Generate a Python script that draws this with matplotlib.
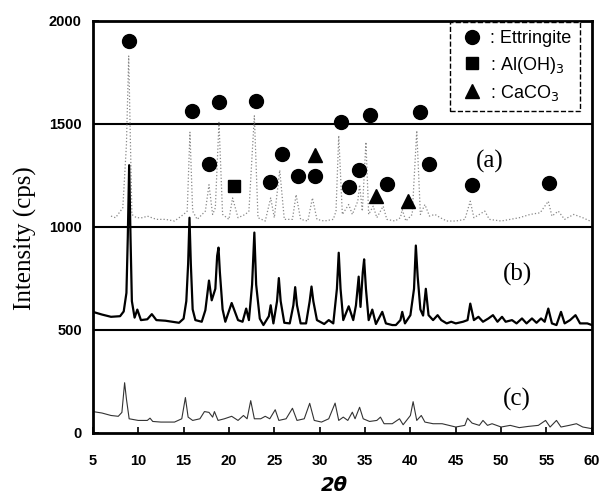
import matplotlib.pyplot as plt
from matplotlib.lines import Line2D

# pattern (a): dotted trace, offset ~1000
a_x = [7.0, 7.5, 8.3, 8.7, 8.95, 9.3, 9.8, 10.5, 11.0, 12.0, 13.0, 14.0, 15.0, 15.4, 15.7, 16.0,
       16.5, 17.4, 17.8, 18.2, 18.5, 18.9, 19.3, 20.0, 20.4, 21.0, 21.8, 22.2, 22.8, 23.2, 24.0,
       24.6, 25.0, 25.6, 26.1, 27.0, 27.4, 27.9, 28.7, 29.2, 29.7, 30.5, 31.5, 31.8, 32.1, 32.5,
       33.2, 33.6, 34.2, 34.4, 34.7, 35.1, 35.4, 35.9, 36.3, 37.0, 37.4, 38.3, 38.9, 39.1, 39.5,
       40.2, 40.7, 41.1, 41.6, 42.1, 42.7, 43.3, 44.0, 45.0, 46.0, 46.6, 47.0, 47.6, 48.2, 48.7,
       50.0, 51.0, 52.0, 53.2, 54.3, 55.2, 55.6, 56.3, 57.0, 58.0, 59.0, 59.8]
a_y = [1053, 1045, 1093, 1400, 1830, 1061, 1045, 1045, 1053, 1037, 1037, 1029, 1061, 1077, 1460, 1077,
       1037, 1077, 1205, 1061, 1093, 1508, 1061, 1037, 1141, 1045, 1061, 1077, 1540, 1045, 1029,
       1141, 1045, 1276, 1037, 1037, 1157, 1037, 1029, 1141, 1037, 1029, 1037, 1077, 1444, 1061,
       1109, 1061, 1125, 1205, 1077, 1412, 1061, 1101, 1045, 1101, 1037, 1029, 1045, 1085, 1029,
       1061, 1468, 1061, 1109, 1053, 1061, 1045, 1029, 1029, 1037, 1125, 1045, 1061, 1077, 1037,
       1029, 1037, 1045, 1061, 1069, 1125, 1053, 1077, 1037, 1061, 1045, 1029]

# pattern (b): solid trace, offset ~500
b_x = [5.0, 6.0, 7.0, 8.0, 8.4, 8.7, 8.85, 9.0, 9.15, 9.3, 9.6, 9.9, 10.3, 11.0, 11.5, 12.0, 13.0,
       14.5, 15.0, 15.3, 15.5, 15.65, 15.8, 16.0, 16.3, 17.0, 17.4, 17.8, 18.1, 18.5, 18.7, 18.85,
       19.0, 19.3, 19.6, 20.3, 21.0, 21.5, 21.9, 22.2, 22.55, 22.8, 23.0, 23.4, 23.8, 24.4, 24.6,
       24.9, 25.3, 25.5, 25.7, 26.1, 26.7, 27.1, 27.3, 27.5, 27.9, 28.5, 28.9, 29.1, 29.3, 29.7,
       30.5, 31.0, 31.5, 31.9, 32.1, 32.3, 32.6, 33.2, 33.7, 34.0, 34.3, 34.5, 34.75, 34.9, 35.1,
       35.4, 35.8, 36.2, 36.9, 37.3, 38.0, 38.4, 38.9, 39.1, 39.4, 40.0, 40.4, 40.6, 40.8, 41.1,
       41.4, 41.7, 42.0, 42.5, 43.0, 43.4, 44.0, 44.5, 45.0, 45.8, 46.3, 46.6, 47.0, 47.5, 48.0,
       48.6, 49.1, 49.6, 50.1, 50.5, 51.2, 51.7, 52.3, 52.8, 53.4, 53.9, 54.4, 54.8, 55.2, 55.6,
       56.1, 56.6, 57.0, 57.6, 58.2, 58.7, 59.5, 60.0]
b_y = [588, 575, 564, 567, 590, 680, 950, 1300, 950, 640, 560, 599, 548, 552, 577, 548, 545,
       535, 555, 640, 820, 1045, 820, 600, 548, 540, 596, 740, 644, 700, 860, 900,
       780, 600, 540, 631, 548, 540, 604, 548, 720, 973, 720, 555, 524, 567, 620,
       532, 640, 752, 640, 535, 532, 620, 708, 620, 532, 532, 640, 711, 640, 548,
       529, 548, 532, 700, 875, 700, 548, 615, 548, 620, 759, 612, 780, 843, 700,
       548, 599, 529, 588, 532, 524, 524, 548, 588, 532, 572, 700, 910, 760, 600,
       570, 700, 572, 548, 572, 548, 532, 540, 532, 540, 548, 628, 548, 564, 540,
       556, 572, 540, 564, 540, 548, 532, 556, 532, 556, 535, 556, 540, 604, 532,
       524, 588, 532, 548, 572, 532, 532, 524]

# pattern (c): thin trace, no offset
c_x = [5.0, 6.0, 7.0, 7.8, 8.2, 8.5, 8.7, 9.0, 10.0, 11.0, 11.3, 11.6, 12.5, 14.0, 14.8, 15.2,
       15.5, 16.0, 16.8, 17.3, 17.8, 18.2, 18.4, 18.8, 19.5, 20.3, 21.0, 21.6, 22.0, 22.4, 22.8,
       23.5, 24.0, 24.5, 25.1, 25.5, 26.3, 27.0, 27.5, 28.3, 28.9, 29.4, 30.2, 31.0, 31.7, 32.1,
       32.6, 33.1, 33.6, 33.9, 34.4, 34.8, 35.5, 36.3, 36.7, 37.1, 38.0, 38.8, 39.2, 40.0, 40.3,
       40.7, 41.2, 41.6, 42.5, 43.5, 45.0, 46.0, 46.3, 46.8, 47.6, 48.0, 48.5, 49.0, 50.0, 51.0,
       52.0, 53.0, 54.1, 54.9, 55.4, 56.1, 56.6, 57.5, 58.3, 59.0, 60.0]
c_y = [104, 97, 85, 81, 100, 244, 165, 69, 61, 61, 72, 56, 53, 53, 69, 172,
       77, 61, 69, 104, 100, 77, 104, 61, 69, 81, 61, 85, 69, 157, 69,
       69, 81, 69, 113, 61, 69, 120, 61, 69, 144, 61, 53, 69, 145, 61,
       77, 61, 101, 69, 125, 69, 56, 61, 77, 45, 45, 69, 40, 85, 152,
       61, 85, 53, 45, 45, 29, 37, 72, 48, 37, 61, 37, 45, 29, 37,
       26, 32, 37, 61, 29, 61, 29, 37, 45, 29, 21]

# phase markers
ett_x = [8.97, 15.96, 18.94, 22.99, 17.79, 24.53, 25.9, 27.56, 29.43, 32.3, 33.27, 34.38,
         35.5, 37.4, 41.08, 42.1, 46.8, 55.3]
ett_y = [1902, 1564, 1607, 1613, 1304, 1220, 1356, 1246, 1246, 1511, 1192, 1276,
         1543, 1209, 1559, 1304, 1205, 1212]
aloh_x = [20.57]
aloh_y = [1197]
caco_x = [29.52, 36.2, 39.75]
caco_y = [1348, 1149, 1128]

yticks = [0, 500, 1000, 1500, 2000]
xticks = [5, 10, 15, 20, 25, 30, 35, 40, 45, 50, 55, 60]

fig = plt.figure(figsize=(6.03, 4.94), dpi=100)
ax = fig.add_axes([0.154, 0.1235, 0.8275, 0.834])

for yy in [500, 1000, 1500]:
    ax.axhline(yy, color='black', lw=1.5, zorder=1)

ax.plot(a_x, a_y, color='#888888', lw=0.9, ls=':', zorder=2)
ax.plot(b_x, b_y, color='black', lw=1.6, zorder=2)
ax.plot(c_x, c_y, color='#333333', lw=0.8, zorder=2)

ax.plot(ett_x, ett_y, 'o', color='black', ms=10, ls='none', zorder=3)
ax.plot(aloh_x, aloh_y, 's', color='black', ms=9, ls='none', zorder=3)
ax.plot(caco_x, caco_y, '^', color='black', ms=10, ls='none', zorder=3)

ax.text(48.7, 1316, '(a)', fontsize=18, family='Liberation Serif', ha='center', va='center')
ax.text(51.8, 771, '(b)', fontsize=18, family='Liberation Serif', ha='center', va='center')
ax.text(51.7, 165, '(c)', fontsize=18, family='Liberation Serif', ha='center', va='center')

handles = [Line2D([], [], marker='o', color='black', ls='none', ms=10),
           Line2D([], [], marker='s', color='black', ls='none', ms=9),
           Line2D([], [], marker='^', color='black', ls='none', ms=10)]
labels = [': Ettringite', ': Al(OH)$_3$', ': CaCO$_3$']
leg = ax.legend(handles, labels, loc='upper right', bbox_to_anchor=(0.976, 0.997),
                fancybox=False, framealpha=1, edgecolor='black',
                handletextpad=0.2, labelspacing=0.4, borderpad=0.45, handlelength=1.6,
                borderaxespad=0, prop={'family': 'Liberation Sans', 'size': 13})
leg.get_frame().set_linestyle('--')
leg.get_frame().set_linewidth(1.0)

ax.set_xlim(5, 60)
ax.set_ylim(0, 2000)
ax.set_xticks(xticks)
ax.set_yticks(yticks)
ax.tick_params(direction='in', length=4, width=1.2, labelsize=10.5)
ax.tick_params(axis='x', pad=15)
ax.tick_params(axis='y', pad=8)
for lab in ax.get_xticklabels() + ax.get_yticklabels():
    lab.set_fontweight('bold')
    lab.set_family('Liberation Sans')
for s in ax.spines.values():
    s.set_linewidth(2)

fig.text(25 / 603, 1 - 238 / 494, 'Intensity (cps)', fontsize=18, family='Liberation Serif',
         rotation=90, ha='center', va='center')
fig.text(334 / 603, 1 - 485 / 494, '2θ', fontsize=14, fontweight='bold', fontstyle='italic',
         family='DejaVu Sans', ha='center', va='center')

fig.savefig('out.png', dpi=100)
